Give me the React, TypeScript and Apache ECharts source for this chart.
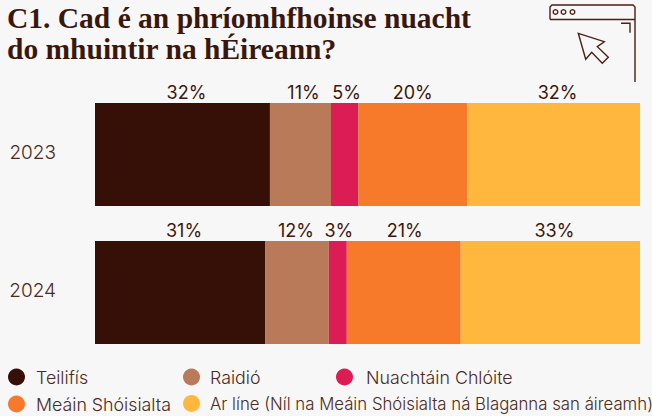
import React, { useEffect, useRef } from "react";
import * as echarts from "echarts";

const years = ["2023", "2024"];
const seriesNames = [
  "Teilifís",
  "Raidió",
  "Nuachtáin Chlóite",
  "Meáin Shóisialta",
  "Ar líne (Níl na Meáin Shóisialta ná Blaganna san áireamh)",
];
const teilifis = [32.1, 31.2];
const raidio = [11.2, 11.7];
const nuachtain = [5, 3.3];
const meain = [20, 20.9];
const arLine = [31.7, 32.9];
const colors = ["#361006", "#b87a58", "#dc1c55", "#f67a2a", "#ffb83d"];
const labelShift = [
  [4, 4],
  [3, -1],
  [2, 1],
  [0, 1],
  [4, 4],
];
const legendPos = [
  [8, 368],
  [183, 368],
  [336, 368],
  [8, 395],
  [183, 395],
];
const legendGap = [6, 5, 8, 6, 5];
const title = ["C1. Cad é an phríomhfhoinse nuacht", "do mhuintir na hÉireann?"];

const FONT = "Inter";
const INK = "#4a2a22";
const BROWN = "#4a1f14";

export default function App() {
  const ref = useRef<HTMLDivElement>(null);
  useEffect(() => {
    const chart = echarts.init(ref.current!, undefined, { renderer: "svg" });
    const values = [teilifis, raidio, nuachtain, meain, arLine];
    const line = { stroke: BROWN, lineWidth: 1.4, fill: "none" };
    chart.setOption({
      animation: false,
      backgroundColor: "#f7f7f7",
      grid: { left: 95, top: 85.5, width: 545, height: 276 },
      xAxis: { type: "value", min: 0, max: 100, show: false },
      yAxis: {
        type: "category",
        inverse: true,
        data: years,
        axisLine: { show: false },
        axisTick: { show: false },
        axisLabel: {
          margin: 39,
          formatter: "{y|{value}}",
          rich: {
            y: {
              color: INK,
              fontFamily: FONT,
              fontWeight: 300,
              fontSize: 19,
              padding: [0, 0, 5, 0],
            },
          },
        },
      },
      legend: seriesNames.map((n, i) => ({
        data: [n],
        left: legendPos[i][0],
        top: legendPos[i][1],
        icon: "circle",
        itemWidth: 17,
        itemHeight: 17,
        selectedMode: false,
        padding: 0,
        textStyle: {
          color: INK,
          fontFamily: FONT,
          fontWeight: 300,
          fontSize: i === 4 ? 16.8 : 17.8,
          padding: [0, 0, 0, legendGap[i]],
        },
      })),
      series: seriesNames.map((n, i) => ({
        name: n,
        type: "bar",
        stack: "total",
        barWidth: 103,
        data: values[i].map((v, j) => ({
          value: v,
          label: { offset: [labelShift[i][j], 1] },
        })),
        itemStyle: { color: colors[i] },
        label: {
          show: true,
          position: "top",
          distance: 3,
          formatter: (p: any) => Math.round(p.value) + "%",
          color: "#3a170e",
          fontFamily: FONT,
          fontWeight: 400,
          fontSize: 18,
        },
      })),
      graphic: [
        ...title.map((t, i) => ({
          type: "text",
          left: 7,
          top: 3 + i * 31,
          style: {
            text: t,
            fill: "#3a170e",
            font: "bold 29.5px 'Liberation Serif'",
          },
        })),
        {
          type: "polyline",
          shape: { points: [[550, 19.5], [550, 7], [552, 5], [633, 5], [635, 7], [635, 82]] },
          style: line,
        },
        { type: "line", shape: { x1: 550, y1: 19.5, x2: 635, y2: 19.5 }, style: line },
        { type: "circle", shape: { cx: 555.5, cy: 12, r: 2.3 }, style: line },
        { type: "circle", shape: { cx: 563.5, cy: 12, r: 2.3 }, style: line },
        { type: "circle", shape: { cx: 572.5, cy: 12, r: 2.3 }, style: line },
        {
          type: "polyline",
          shape: { points: [[621, 23.3], [630, 23.3], [630, 32.7]] },
          style: line,
        },
        {
          type: "polygon",
          shape: {
            points: [
              [578.3, 33.3],
              [604.3, 41.7],
              [597.3, 46.7],
              [608.3, 57.3],
              [602.3, 63.3],
              [591.7, 52.3],
              [585.7, 59.3],
            ],
          },
          style: line,
        },
      ],
    });
    return () => chart.dispose();
  }, []);
  return (
    <div
      ref={ref}
      style={{ position: "fixed", left: 0, top: 0, width: 652, height: 416 }}
    />
  );
}
